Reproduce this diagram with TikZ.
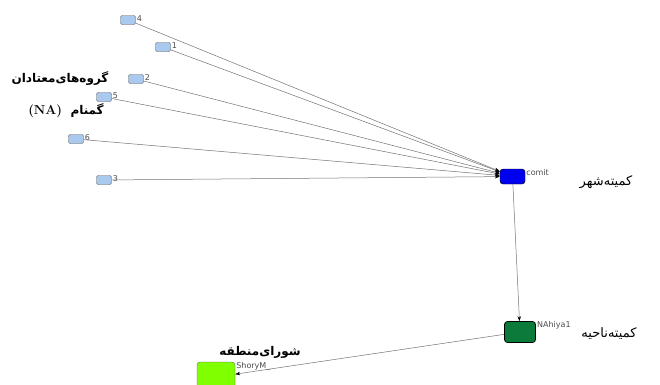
\documentclass[tikz,border=0pt]{standalone}
\usepackage{fontspec}
\newfontfamily\arabicfont[Script=Arabic]{DejaVu Sans}
\newfontfamily\labelfont{DejaVu Sans}
\TeXXeTstate=1
\usetikzlibrary{arrows.meta}

\definecolor{groupblue}{HTML}{A9C9EF}
\definecolor{cityblue}{HTML}{0000F0}
\definecolor{zonegreen}{HTML}{0B7A3A}
\definecolor{areagreen}{HTML}{80FF00}

\tikzset{
  smallbox/.style={draw=black!65, fill=groupblue, rounded corners=2pt, minimum width=15pt, minimum height=9pt, inner sep=0pt},
  bigbox/.style={draw=black, rounded corners=3pt, inner sep=0pt},
  nodelbl/.style={font=\labelfont\fontsize{8}{9}\selectfont, text=black!70, inner sep=1pt, anchor=north west, yshift=1pt},
  tie/.style={draw=black!55, line width=0.5pt, -{Stealth[length=5pt,width=3.5pt,black]}},
  fatext/.style={font=\arabicfont\fontsize{13}{15}\selectfont},
  fabold/.style={font=\arabicfont\bfseries\fontsize{12}{14}\selectfont}
}

\begin{document}
\begin{tikzpicture}[x=1pt,y=-1pt]
\clip (0,0) rectangle (660,384);
\fill[white] (0,0) rectangle (660,384);

% Anonymous groups
\foreach \id/\x/\y in {4/128/20, 1/163/47, 2/136/79, 5/104/97, 6/76/139, 3/104/180} {
  \node[smallbox, label={[nodelbl]north east:\id}] (g\id) at (\x,\y) {};
}

% Committees
\node[bigbox, fill=cityblue, minimum width=25pt, minimum height=15pt,
      label={[nodelbl]north east:comit}] (comit) at (512.5,176.5) {};
\node[bigbox, fill=zonegreen, line width=0.8pt, minimum width=31pt, minimum height=21pt,
      label={[nodelbl]north east:NAhiya1}] (nahiya) at (520,332) {};
\node[bigbox, draw=black!60, fill=areagreen, minimum width=38pt, minimum height=30pt,
      label={[nodelbl]north east:ShoryM\_}] (shory) at (216,377) {};

% Ties
\foreach \id in {4,1,2,5,6,3} {
  \draw[tie] (g\id) -- (comit);
}
\draw[tie] (comit) -- (nahiya);
\draw[tie] (nahiya) -- (shory);

% Titles
\node[fatext] (citytxt) at (606,182) {\beginR کمیته‌شهر\endR};
\node[fatext] (zonetxt) at (609,334) {\beginR کمیته‌ناحیه\endR};
\node[fabold] (areatxt) at (260,352) {\beginR شورای‌منطقه\endR};
\node[fabold] (grptxt) at (60,79) {\beginR گروه‌های‌معتادان\endR};
\node[fabold] (natxt) at (66,111) {\beginR گمنام~~\beginL{\rmfamily\bfseries\fontsize{13}{15}\selectfont (NA)}\endL\endR};
\end{tikzpicture}
\end{document}
